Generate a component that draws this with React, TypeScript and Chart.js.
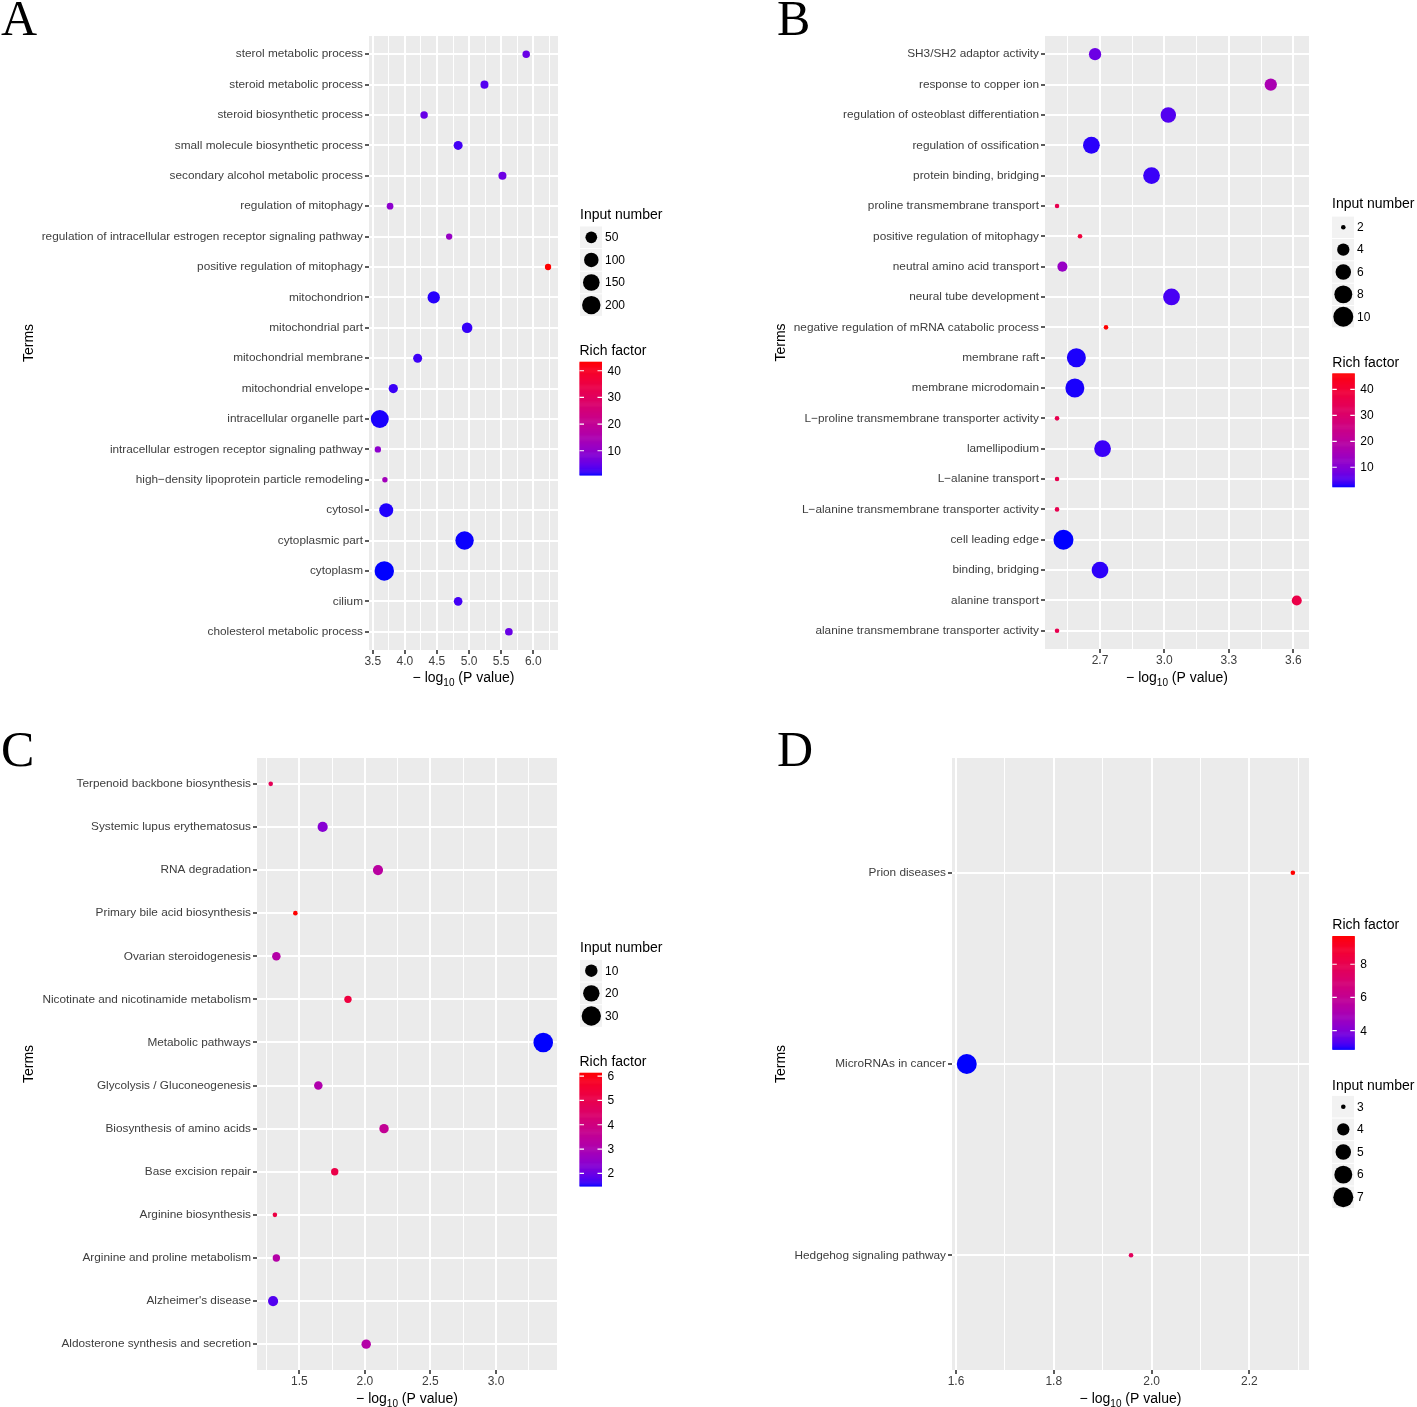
import React, { useEffect, useRef } from 'react';
import { Chart, registerables } from 'chart.js';
Chart.register(...registerables);

const SANS = '"Liberation Sans", Arial, Helvetica, sans-serif';
const SERIF = '"Liberation Serif", "Times New Roman", serif';

// ---------------- Panel A ----------------
const A_TERMS = [
  'sterol metabolic process',
  'steroid metabolic process',
  'steroid biosynthetic process',
  'small molecule biosynthetic process',
  'secondary alcohol metabolic process',
  'regulation of mitophagy',
  'regulation of intracellular estrogen receptor signaling pathway',
  'positive regulation of mitophagy',
  'mitochondrion',
  'mitochondrial part',
  'mitochondrial membrane',
  'mitochondrial envelope',
  'intracellular organelle part',
  'intracellular estrogen receptor signaling pathway',
  'high\u2212density lipoprotein particle remodeling',
  'cytosol',
  'cytoplasmic part',
  'cytoplasm',
  'cilium',
  'cholesterol metabolic process',
];
const A_PVALUE = [5.89, 5.24, 4.3, 4.83, 5.52, 3.77, 4.69, 6.23, 4.45, 4.97, 4.2, 3.82, 3.61, 3.58, 3.69, 3.71, 4.93, 3.68, 4.83, 5.62];
const A_INPUT = [9, 12, 9, 19, 12, 6, 5, 5, 60, 35, 19, 21, 187, 5, 4, 89, 199, 230, 16, 10];
const A_RICH = [5.2, 3.5, 5.1, 2.6, 5.6, 9.4, 11, 43.4, 1.5, 2.0, 2.3, 2.2, 1.2, 9.4, 12.8, 1.3, 1.0, 0.9, 2.6, 5.2];
const A_XTICKS = [3.5, 4.0, 4.5, 5.0, 5.5, 6.0];
const A_SIZE_BREAKS = [50, 100, 150, 200];
const A_RICH_BREAKS = [10, 20, 30, 40];

// ---------------- Panel B ----------------
const B_TERMS = [
  'SH3/SH2 adaptor activity',
  'response to copper ion',
  'regulation of osteoblast differentiation',
  'regulation of ossification',
  'protein binding, bridging',
  'proline transmembrane transport',
  'positive regulation of mitophagy',
  'neutral amino acid transport',
  'neural tube development',
  'negative regulation of mRNA catabolic process',
  'membrane raft',
  'membrane microdomain',
  'L\u2212proline transmembrane transporter activity',
  'lamellipodium',
  'L\u2212alanine transport',
  'L\u2212alanine transmembrane transporter activity',
  'cell leading edge',
  'binding, bridging',
  'alanine transport',
  'alanine transmembrane transporter activity',
];
const B_PVALUE = [2.677, 3.495, 3.018, 2.66, 2.94, 2.5, 2.607, 2.525, 3.033, 2.728, 2.59, 2.583, 2.5, 2.712, 2.5, 2.5, 2.53, 2.7, 3.616, 2.5];
const B_INPUT = [4, 4, 6, 7, 7, 2, 2, 3, 7, 2, 9, 9, 2, 7, 2, 2, 10, 7, 3, 2];
const B_RICH = [7.3, 16.5, 5.1, 3.2, 3.8, 35.3, 38.8, 13, 4.5, 46.2, 2.85, 2.8, 35.3, 3.8, 35.3, 35.3, 2.5, 3.3, 36.6, 35.3];
const B_XTICKS = [2.7, 3.0, 3.3, 3.6];
const B_SIZE_BREAKS = [2, 4, 6, 8, 10];
const B_RICH_BREAKS = [10, 20, 30, 40];

// ---------------- Panel C ----------------
const C_TERMS = [
  'Terpenoid backbone biosynthesis',
  'Systemic lupus erythematosus',
  'RNA degradation',
  'Primary bile acid biosynthesis',
  'Ovarian steroidogenesis',
  'Nicotinate and nicotinamide metabolism',
  'Metabolic pathways',
  'Glycolysis / Gluconeogenesis',
  'Biosynthesis of amino acids',
  'Base excision repair',
  'Arginine biosynthesis',
  'Arginine and proline metabolism',
  "Alzheimer's disease",
  'Aldosterone synthesis and secretion',
];
const C_PVALUE = [1.282, 1.678, 2.1, 1.47, 1.325, 1.871, 3.36, 1.645, 2.146, 1.77, 1.314, 1.325, 1.3, 2.01];
const C_INPUT = [2, 6, 6, 2, 4, 3, 31, 4, 5, 3, 2, 3, 6, 5];
const C_RICH = [4.84, 2.32, 3.34, 6.14, 3.2, 5.3, 1.48, 3.1, 3.58, 5.1, 5.2, 3.2, 1.76, 3.2];
const C_XTICKS = [1.5, 2.0, 2.5, 3.0];
const C_SIZE_BREAKS = [10, 20, 30];
const C_RICH_BREAKS = [2, 3, 4, 5, 6];

// ---------------- Panel D ----------------
const D_TERMS = ['Prion diseases', 'MicroRNAs in cancer', 'Hedgehog signaling pathway'];
const D_PVALUE = [2.289, 1.622, 1.958];
const D_INPUT = [3, 7, 3];
const D_RICH = [9.7, 2.88, 7.65];
const D_XTICKS = [1.6, 1.8, 2.0, 2.2];
const D_SIZE_BREAKS = [3, 4, 5, 6, 7];
const D_RICH_BREAKS = [4, 6, 8];

// ---------------- colour helpers (Lab interpolation blue -> red) ----------------
function rgbToLab(c: number[]) {
  const lin = (v: number) => {
    v /= 255;
    return v <= 0.04045 ? v / 12.92 : Math.pow((v + 0.055) / 1.055, 2.4);
  };
  const R = lin(c[0]), G = lin(c[1]), B = lin(c[2]);
  const X = (0.4124564 * R + 0.3575761 * G + 0.1804375 * B) / 0.95047;
  const Y = 0.2126729 * R + 0.7151522 * G + 0.072175 * B;
  const Z = (0.0193339 * R + 0.119192 * G + 0.9503041 * B) / 1.08883;
  const f = (t: number) => (t > 0.008856 ? Math.cbrt(t) : 7.787 * t + 16 / 116);
  const fx = f(X), fy = f(Y), fz = f(Z);
  return [116 * fy - 16, 500 * (fx - fy), 200 * (fy - fz)];
}
function labToRgb(l: number[]) {
  const fy = (l[0] + 16) / 116;
  const fx = fy + l[1] / 500;
  const fz = fy - l[2] / 200;
  const inv = (t: number) => (t * t * t > 0.008856 ? t * t * t : (t - 16 / 116) / 7.787);
  const X = inv(fx) * 0.95047, Y = inv(fy), Z = inv(fz) * 1.08883;
  const r = 3.2404542 * X - 1.5371385 * Y - 0.4985314 * Z;
  const g = -0.969266 * X + 1.8760108 * Y + 0.041556 * Z;
  const b = 0.0556434 * X - 0.2040259 * Y + 1.0572252 * Z;
  const gam = (v: number) => {
    v = Math.max(0, Math.min(1, v));
    v = v <= 0.0031308 ? 12.92 * v : 1.055 * Math.pow(v, 1 / 2.4) - 0.055;
    return Math.round(v * 255);
  };
  return [gam(r), gam(g), gam(b)];
}
const LAB_LOW = rgbToLab([0, 0, 255]);
const LAB_HIGH = rgbToLab([255, 0, 0]);
function gradColor(t: number) {
  t = Math.max(0, Math.min(1, t));
  const l = [0, 1, 2].map((k) => LAB_LOW[k] + (LAB_HIGH[k] - LAB_LOW[k]) * t);
  const c = labToRgb(l);
  return `rgb(${c[0]},${c[1]},${c[2]})`;
}

// ---------------- panel layout ----------------
type PanelDef = any;

const PANELS: PanelDef[] = [
  {
    letter: 'A', ox: 0, oy: 0, w: 708, h: 703,
    area: { left: 369, top: 36, right: 558, bottom: 650 },
    xMin: 3.442, xMax: 6.385,
    terms: A_TERMS, pval: A_PVALUE, input: A_INPUT, rich: A_RICH, xticks: A_XTICKS,
    sizeBreaks: A_SIZE_BREAKS, richBreaks: A_RICH_BREAKS, rRange: [2.7, 9.7],
    letterX: 1, letterY: 35, termsX: 29, xTitleY: 677,
    sizeLeg: { x: 580, titleY: 215, y0: 237.3, step: 22.6 },
    barLeg: { x: 579.5, titleY: 351, top: 361.7, bottom: 475 },
  },
  {
    letter: 'B', ox: 708, oy: 0, w: 709, h: 703,
    area: { left: 1045, top: 36, right: 1309, bottom: 649 },
    xMin: 2.444, xMax: 3.673,
    terms: B_TERMS, pval: B_PVALUE, input: B_INPUT, rich: B_RICH, xticks: B_XTICKS,
    sizeBreaks: B_SIZE_BREAKS, richBreaks: B_RICH_BREAKS, rRange: [2.3, 10],
    letterX: 777, letterY: 35, termsX: 781, xTitleY: 677,
    sizeLeg: { x: 1332, titleY: 204.5, y0: 227.3, step: 22.35 },
    barLeg: { x: 1332.3, titleY: 363, top: 373.3, bottom: 486.7 },
  },
  {
    letter: 'C', ox: 0, oy: 703, w: 708, h: 704,
    area: { left: 257, top: 758, right: 557, bottom: 1370 },
    xMin: 1.1774, xMax: 3.465,
    terms: C_TERMS, pval: C_PVALUE, input: C_INPUT, rich: C_RICH, xticks: C_XTICKS,
    sizeBreaks: C_SIZE_BREAKS, richBreaks: C_RICH_BREAKS, rRange: [2.3, 9.8],
    letterX: 1, letterY: 766, termsX: 29, xTitleY: 1398,
    sizeLeg: { x: 580, titleY: 948, y0: 970.7, step: 22.65 },
    barLeg: { x: 579.5, titleY: 1062, top: 1072.7, bottom: 1186 },
  },
  {
    letter: 'D', ox: 708, oy: 703, w: 709, h: 704,
    area: { left: 952, top: 758, right: 1309, bottom: 1370 },
    xMin: 1.5918, xMax: 2.322,
    terms: D_TERMS, pval: D_PVALUE, input: D_INPUT, rich: D_RICH, xticks: D_XTICKS,
    sizeBreaks: D_SIZE_BREAKS, richBreaks: D_RICH_BREAKS, rRange: [2.3, 10],
    letterX: 777, letterY: 766, termsX: 781, xTitleY: 1398,
    sizeLeg: { x: 1332, titleY: 1086, y0: 1106.7, step: 22.65 },
    barLeg: { x: 1332.3, titleY: 925, top: 936, bottom: 1049.3 },
  },
];

function makeSizeFn(p: PanelDef) {
  const nMin = Math.min(...p.input);
  const nMax = Math.max(...p.input);
  const [r0, r1] = p.rRange;
  return (n: number) => r0 + (r1 - r0) * Math.sqrt(Math.max(0, (n - nMin) / (nMax - nMin)));
}
function makeRichScale(p: PanelDef) {
  const lo = Math.min(...p.rich);
  const hi = Math.max(...p.rich);
  return { lo, hi, t: (v: number) => (v - lo) / (hi - lo) };
}

function decorPlugin(p: PanelDef) {
  const sizeOf = makeSizeFn(p);
  const rs = makeRichScale(p);
  return {
    id: 'decor' + p.letter,
    beforeDraw(chart: any) {
      const { ctx, chartArea: a } = chart;
      ctx.save();
      ctx.fillStyle = '#EBEBEB';
      ctx.fillRect(a.left, a.top, a.right - a.left, a.bottom - a.top);
      ctx.restore();
    },
    afterDraw(chart: any) {
      const ctx = chart.ctx;
      const a = chart.chartArea;
      ctx.save();
      ctx.translate(-p.ox, -p.oy);
      const L = a.left + p.ox, R = a.right + p.ox, T = a.top + p.oy, B = a.bottom + p.oy;

      // panel letter
      ctx.fillStyle = '#000';
      ctx.textAlign = 'left';
      ctx.textBaseline = 'alphabetic';
      ctx.font = `50px ${SERIF}`;
      ctx.fillText(p.letter, p.letterX, p.letterY);

      // y title
      ctx.save();
      ctx.translate(p.termsX, (T + B) / 2);
      ctx.rotate(-Math.PI / 2);
      ctx.font = `14px ${SANS}`;
      ctx.textAlign = 'center';
      ctx.textBaseline = 'middle';
      ctx.fillText('Terms', 0, 0);
      ctx.restore();

      // x title with subscript
      const big = `14px ${SANS}`;
      const small = `10px ${SANS}`;
      const p1 = '\u2212 log';
      const p2 = '10';
      const p3 = ' (P value)';
      ctx.font = big;
      const w1 = ctx.measureText(p1).width;
      const w3 = ctx.measureText(p3).width;
      ctx.font = small;
      const w2 = ctx.measureText(p2).width;
      let x = (L + R) / 2 - (w1 + w2 + w3) / 2;
      const base = p.xTitleY + 5;
      ctx.textAlign = 'left';
      ctx.textBaseline = 'alphabetic';
      ctx.font = big;
      ctx.fillText(p1, x, base);
      x += w1;
      ctx.font = small;
      ctx.fillText(p2, x, base + 3.5);
      x += w2;
      ctx.font = big;
      ctx.fillText(p3, x, base);

      // size legend
      const sl = p.sizeLeg;
      ctx.font = `14px ${SANS}`;
      ctx.textBaseline = 'middle';
      ctx.fillStyle = '#000';
      ctx.fillText('Input number', sl.x, sl.titleY);
      ctx.font = `12px ${SANS}`;
      p.sizeBreaks.forEach((v: number, i: number) => {
        const cy = sl.y0 + i * sl.step;
        ctx.fillStyle = '#F2F2F2';
        ctx.fillRect(sl.x, cy - sl.step / 2 + 0.5, 22, sl.step - 1);
        ctx.fillStyle = '#000';
        ctx.beginPath();
        ctx.arc(sl.x + 11.3, cy, sizeOf(v), 0, Math.PI * 2);
        ctx.fill();
        ctx.fillText(String(v), sl.x + 25, cy + 0.5);
      });

      // colour bar
      const bl = p.barLeg;
      const bw = 22.5;
      ctx.font = `14px ${SANS}`;
      ctx.fillText('Rich factor', bl.x, bl.titleY);
      const hgt = bl.bottom - bl.top;
      const steps = 120;
      for (let k = 0; k < steps; k++) {
        const y0 = bl.top + (hgt * k) / steps;
        const t = 1 - (k + 0.5) / steps;
        ctx.fillStyle = gradColor(t);
        ctx.fillRect(bl.x, y0, bw, hgt / steps + 0.6);
      }
      ctx.font = `12px ${SANS}`;
      ctx.strokeStyle = '#FFFFFF';
      ctx.lineWidth = 1.2;
      p.richBreaks.forEach((v: number) => {
        const y = bl.bottom - rs.t(v) * hgt;
        ctx.beginPath();
        ctx.moveTo(bl.x, y);
        ctx.lineTo(bl.x + bw / 5, y);
        ctx.moveTo(bl.x + bw - bw / 5, y);
        ctx.lineTo(bl.x + bw, y);
        ctx.stroke();
        ctx.fillStyle = '#000';
        ctx.fillText(String(v), bl.x + bw + 5.5, y + 0.5);
      });

      ctx.restore();
    },
  };
}

function makeConfig(p: PanelDef): any {
  const sizeOf = makeSizeFn(p);
  const rs = makeRichScale(p);
  const n = p.terms.length;
  const data = p.terms.map((_: string, i: number) => ({ x: p.pval[i], y: i + 1, r: sizeOf(p.input[i]) }));
  const colors = p.rich.map((v: number) => gradColor(rs.t(v)));
  const majors: number[] = p.xticks;
  const step = majors[1] - majors[0];
  const allX: number[] = [];
  majors.forEach((m) => {
    allX.push(m - step / 2);
    allX.push(m);
  });
  allX.push(majors[majors.length - 1] + step / 2);
  const xVals = allX.filter((v) => v >= p.xMin && v <= p.xMax);
  const isMajor = (v: number) => majors.some((m) => Math.abs(m - v) < 1e-6);
  const padding = {
    left: 0,
    top: p.area.top - p.oy,
    right: p.ox + p.w - p.area.right,
    bottom: 0,
  };
  const yWidth = p.area.left - p.ox;
  const xHeight = p.oy + p.h - p.area.bottom;
  const xFont = { family: SANS, size: 12 };
  const yFont = { family: SANS, size: 11.8 };
  return {
    type: 'bubble',
    data: {
      datasets: [
        {
          data,
          backgroundColor: colors,
          borderWidth: 0,
          hoverBorderWidth: 0,
          hoverRadius: 0,
        },
      ],
    },
    options: {
      responsive: false,
      animation: false,
      events: [],
      layout: { padding },
      plugins: { legend: { display: false }, tooltip: { enabled: false } },
      scales: {
        x: {
          type: 'linear',
          position: 'bottom',
          min: p.xMin,
          max: p.xMax,
          bounds: 'data',
          afterBuildTicks: (s: any) => {
            s.ticks = xVals.map((v) => ({ value: v }));
          },
          afterFit: (s: any) => {
            s.height = xHeight;
          },
          ticks: {
            autoSkip: false,
            maxRotation: 0,
            minRotation: 0,
            padding: 0,
            color: '#3D3D3D',
            font: xFont,
            callback: (v: number) => (isMajor(v) ? Number(v).toFixed(1) : ''),
          },
          grid: {
            color: '#FFFFFF',
            lineWidth: (ctx: any) => (ctx.tick && isMajor(ctx.tick.value) ? 2 : 1),
            tickColor: (ctx: any) => (ctx.tick && isMajor(ctx.tick.value) ? '#333333' : 'rgba(0,0,0,0)'),
            tickWidth: 1.6,
            tickLength: 4,
          },
          border: { display: false },
        },
        y: {
          type: 'linear',
          position: 'left',
          reverse: true,
          min: 0.4,
          max: n + 0.6,
          bounds: 'data',
          afterBuildTicks: (s: any) => {
            s.ticks = p.terms.map((_: string, i: number) => ({ value: i + 1 }));
          },
          afterFit: (s: any) => {
            s.width = yWidth;
          },
          ticks: {
            autoSkip: false,
            padding: 2,
            color: '#3D3D3D',
            font: yFont,
            callback: (v: number) => p.terms[Math.round(v) - 1] ?? '',
          },
          grid: {
            color: '#FFFFFF',
            lineWidth: 2,
            tickColor: '#333333',
            tickWidth: 1.6,
            tickLength: 4,
          },
          border: { display: false },
        },
      },
    },
    plugins: [decorPlugin(p)],
  };
}

export default function App() {
  const r0 = useRef<HTMLCanvasElement | null>(null);
  const r1 = useRef<HTMLCanvasElement | null>(null);
  const r2 = useRef<HTMLCanvasElement | null>(null);
  const r3 = useRef<HTMLCanvasElement | null>(null);
  const refs = [r0, r1, r2, r3];
  useEffect(() => {
    document.body.style.margin = '0';
    document.body.style.overflow = 'hidden';
    const charts = PANELS.map((p, i) => new Chart(refs[i].current as HTMLCanvasElement, makeConfig(p)));
    return () => charts.forEach((c) => c.destroy());
  }, []);
  return (
    <div style={{ position: 'relative', width: 1417, height: 1407, background: '#FFFFFF', overflow: 'hidden' }}>
      {PANELS.map((p, i) => (
        <canvas
          key={p.letter}
          ref={refs[i]}
          width={p.w}
          height={p.h}
          style={{ position: 'absolute', left: p.ox, top: p.oy, width: p.w, height: p.h }}
        />
      ))}
    </div>
  );
}
